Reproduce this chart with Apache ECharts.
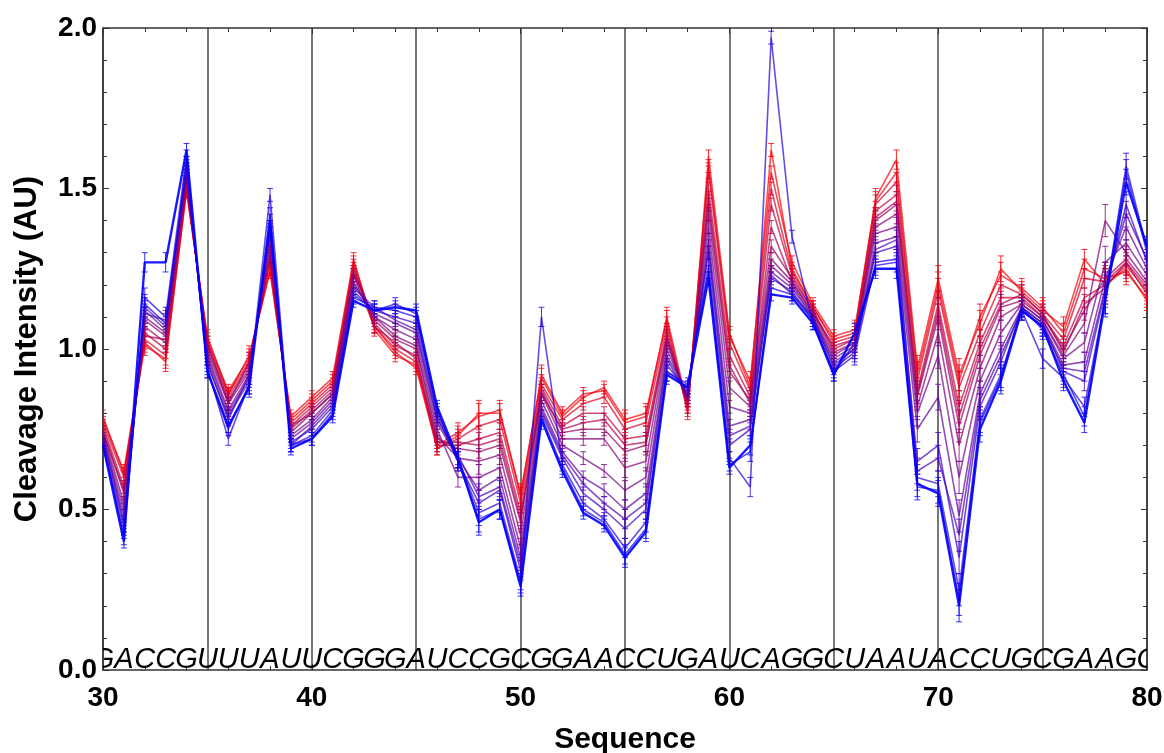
<!DOCTYPE html>
<html><head><meta charset="utf-8">
<script src="https://cdn.jsdelivr.net/npm/echarts@6/dist/echarts.min.js"></script>
<style>html,body{margin:0;padding:0;background:#fff}#c{width:1164px;height:753px}</style>
</head><body><div id="c"></div>
<script>
// ---- data ----
const positions = [30,31,32,33,34,35,36,37,38,39,40,41,42,43,44,45,46,47,48,49,50,51,52,53,54,55,56,57,58,59,60,61,62,63,64,65,66,67,68,69,70,71,72,73,74,75,76,77,78,79,80];
const sequenceLetters = ['G','A','C','C','G','U','U','U','A','U','U','C','G','G','G','A','U','C','C','G','C','G','G','A','A','C','C','U','G','A','U','C','A','G','G','C','U','A','A','U','A','C','C','U','G','C','G','A','A','G','C'];
const xTicks = [30,40,50,60,70,80];
const yTicks = ['0.0','0.5','1.0','1.5','2.0'];
// half-length of the error bars at each position
const errHalf = [.02,.02,.03,.03,.02,.02,.02,.03,.02,.02,
                 .02,.02,.02,.02,.02,.02,.02,.03,.04,.03,
                 .03,.03,.02,.02,.02,.03,.03,.03,.02,.02,
                 .02,.03,.02,.02,.02,.02,.03,.03,.03,.04,
                 .04,.05,.04,.04,.03,.03,.03,.03,.05,.04,
                 .03];
// series, from red (first) to blue (last)
const s0 = [.78,.62,1.02,.96,1.50,1.03,.87,.97,1.25,.78,
            .84,.90,1.27,1.07,.99,.94,.69,.73,.80,.80,
            .55,.91,.79,.85,.88,.78,.80,1.09,.80,1.60,
            1.05,.88,1.62,1.25,1.13,1.03,1.05,1.47,1.59,.94,
            1.22,.92,1.08,1.25,1.18,1.12,1.07,1.28,1.20,1.25,
            1.15];
const sA = [.79,.61,1.01,.97,1.49,1.04,.86,.98,1.24,.79,
            .85,.91,1.28,1.06,.98,.95,.70,.74,.79,.81,
            .54,.92,.80,.86,.87,.77,.79,1.10,.82,1.57,
            1.04,.90,1.55,1.27,1.14,1.04,1.06,1.46,1.55,.92,
            1.20,.90,1.10,1.23,1.19,1.13,1.05,1.25,1.22,1.24,
            1.16];
const s1 = [.77,.60,1.03,.98,1.51,1.02,.86,.96,1.27,.77,
            .83,.89,1.26,1.07,1.00,.96,.69,.72,.76,.78,
            .52,.89,.78,.83,.85,.75,.77,1.07,.81,1.55,
            1.02,.87,1.50,1.24,1.13,1.02,1.04,1.45,1.52,.90,
            1.18,.88,1.05,1.20,1.17,1.11,1.03,1.22,1.21,1.27,
            1.17];
const s2 = [.76,.57,1.05,1.00,1.52,1.01,.85,.95,1.28,.76,
            .82,.88,1.25,1.08,1.01,.98,.70,.70,.72,.74,
            .49,.88,.76,.80,.80,.72,.73,1.05,.82,1.50,
            .98,.85,1.45,1.23,1.12,1.00,1.03,1.43,1.48,.87,
            1.14,.82,1.02,1.16,1.16,1.10,1.01,1.16,1.20,1.26,
            1.18];
const sB = [.74,.56,1.04,1.03,1.51,1.02,.83,.96,1.29,.76,
            .80,.86,1.23,1.07,1.02,.97,.71,.71,.70,.72,
            .47,.86,.75,.77,.78,.70,.71,1.04,.84,1.47,
            .95,.83,1.38,1.21,1.11,1.01,1.03,1.41,1.46,.86,
            1.12,.79,1.00,1.14,1.17,1.11,.99,1.14,1.19,1.27,
            1.19];
const s3 = [.75,.55,1.07,1.02,1.53,1.00,.84,.94,1.30,.75,
            .81,.87,1.24,1.09,1.03,1.00,.72,.69,.68,.70,
            .46,.87,.74,.75,.75,.68,.70,1.03,.83,1.45,
            .93,.84,1.32,1.22,1.12,.99,1.02,1.40,1.45,.85,
            1.10,.76,.98,1.13,1.15,1.10,1.00,1.12,1.22,1.28,
            1.20];
const s4 = [.74,.52,1.09,1.04,1.54,.99,.83,.93,1.32,.74,
            .80,.86,1.23,1.10,1.04,1.01,.73,.66,.65,.67,
            .42,.86,.72,.72,.72,.63,.65,1.02,.84,1.42,
            .88,.82,1.28,1.21,1.11,.98,1.02,1.38,1.42,.82,
            1.05,.70,.94,1.10,1.14,1.09,.98,1.08,1.40,1.30,
            1.21];
const s5 = [.73,.50,1.10,1.05,1.55,.98,.81,.92,1.34,.73,
            .78,.85,1.21,1.10,1.06,1.03,.75,.60,.60,.63,
            .38,.84,.70,.66,.62,.56,.60,1.00,.85,1.38,
            .82,.80,1.26,1.20,1.10,.97,1.01,1.36,1.38,.80,
            .98,.60,.90,1.05,1.14,1.09,.97,1.02,1.27,1.33,
            1.23];
const s6 = [.72,.48,1.12,1.06,1.56,.97,.80,.91,1.36,.72,
            .77,.84,1.20,1.11,1.08,1.05,.77,.66,.56,.60,
            .35,.82,.68,.60,.56,.50,.55,.98,.86,1.34,
            .76,.78,1.24,1.19,1.10,.96,1.00,1.33,1.35,.75,
            .85,.48,.86,1.00,1.13,1.08,.95,.96,1.22,1.38,
            1.25];
const sC = [.73,.46,1.11,1.09,1.55,.96,.78,.92,1.37,.70,
            .76,.83,1.19,1.13,1.09,1.06,.78,.67,.54,.57,
            .33,.81,.67,.58,.52,.47,.52,.97,.85,1.32,
            .73,.76,1.23,1.17,1.10,.94,.99,1.31,1.34,.62,
            .66,.42,.84,.98,1.12,1.07,.94,.93,1.19,1.42,
            1.28];
const s7 = [.71,.45,1.13,1.07,1.57,.95,.79,.90,1.38,.71,
            .75,.82,1.18,1.12,1.10,1.08,.79,.65,.52,.56,
            .31,.80,.66,.55,.50,.44,.50,.95,.87,1.30,
            .70,.75,1.22,1.18,1.09,.95,1.00,1.30,1.32,.65,
            .70,.35,.82,.96,1.13,1.08,.93,.90,1.18,1.45,
            1.27];
const s8 = [.70,.43,1.14,1.08,1.58,.94,.72,.89,1.48,.70,
            .73,.81,1.17,1.12,1.14,1.11,.80,.66,.49,.52,
            .28,1.10,.64,.52,.47,.38,.46,.93,.88,1.26,
            .66,.57,1.97,1.35,1.08,.93,.98,1.27,1.28,.60,
            .58,.25,.78,.92,1.12,.97,.91,.82,1.16,1.55,
            1.30];
const sD = [.71,.41,1.16,1.10,1.60,.93,.75,.89,1.42,.70,
            .72,.80,1.16,1.13,1.12,1.10,.81,.65,.47,.50,
            .27,.79,.63,.50,.46,.36,.44,.93,.89,1.24,
            .64,.68,1.19,1.17,1.09,.92,1.02,1.26,1.27,.57,
            .56,.22,.77,.91,1.13,1.06,.92,.79,1.16,1.57,
            1.31];
const s9 = [.70,.40,1.27,1.27,1.62,.93,.76,.88,1.40,.69,
            .72,.79,1.15,1.12,1.13,1.12,.82,.66,.46,.50,
            .26,.78,.62,.49,.45,.35,.43,.92,.88,1.22,
            .63,.70,1.17,1.16,1.08,.92,1.05,1.25,1.25,.58,
            .55,.20,.75,.90,1.12,1.07,.90,.77,1.15,1.52,
            1.32];
const allSeries = [s0,sA,s1,s2,sB,s3,s4,s5,s6,sC,s7,s8,sD,s9];

// ---- styles ----
const colors = ['#ff0000','#eb0014','#d80027','#c4003b','#b1004e','#9d0062','#890076',
                '#760089','#62009d','#4e00b1','#3b00c4','#2700d8','#1400eb','#0000ff'];
const FONT = '"Liberation Sans", Arial, sans-serif';
const letterY = 0.03;

function errRender(color) {
  return function (params, api) {
    const x = api.value(0), y = api.value(1), e = api.value(2);
    const t = api.coord([x, y + e]), b = api.coord([x, y - e]);
    const c = 3;
    const st = { stroke: color, lineWidth: 1, opacity: 0.8 };
    return { type: 'group', children: [
      { type: 'line', shape: { x1: t[0], y1: t[1], x2: b[0], y2: b[1] }, style: st },
      { type: 'line', shape: { x1: t[0] - c, y1: t[1], x2: t[0] + c, y2: t[1] }, style: st },
      { type: 'line', shape: { x1: b[0] - c, y1: b[1], x2: b[0] + c, y2: b[1] }, style: st }
    ]};
  };
}

const series = [];
// sequence letters
series.push({
  type: 'custom', xAxisIndex: 0, yAxisIndex: 0, clip: true, z: 1,
  data: positions.map((x, i) => [x, letterY, i]),
  renderItem: function (params, api) {
    const p = api.coord([api.value(0), api.value(1)]);
    return { type: 'text', x: p[0], y: p[1], style: {
      text: sequenceLetters[params.dataIndex], font: 'italic 29px ' + FONT,
      fill: '#000', align: 'center', verticalAlign: 'middle' } };
  }
});
allSeries.forEach((vals, i) => {
  const last = i === allSeries.length - 1;
  series.push({
    type: 'line', xAxisIndex: 0, yAxisIndex: 0, z: 3,
    data: positions.map((x, j) => [x, vals[j]]),
    showSymbol: false, symbol: 'none', clip: true,
    lineStyle: { color: colors[i], width: last ? 2.4 : 1.6, opacity: last ? 0.9 : 0.7 },
    silent: true, animation: false
  });
  series.push({
    type: 'custom', xAxisIndex: 0, yAxisIndex: 0, z: 3, clip: true,
    data: positions.map((x, j) => [x, vals[j], errHalf[j]]),
    renderItem: errRender(colors[i]), silent: true
  });
});

const axisLineStyle = { color: '#333', width: 1.5 };
const option = {
  animation: false,
  backgroundColor: '#fff',
  grid: { left: 103, right: 17, top: 28, bottom: 83, containLabel: false, outerBoundsMode: 'none' },
  xAxis: [
    { type: 'value', min: 30, max: 80, interval: 10, position: 'bottom',
      axisLine: { show: true, onZero: false, lineStyle: axisLineStyle },
      axisTick: { show: true, inside: true, length: 6, lineStyle: { color: '#333', width: 1 } },
      minorTick: { show: true, splitNumber: 5, length: 4, lineStyle: { color: '#333', width: 1 } },
      splitLine: { show: false },
      axisLabel: { show: true, margin: 14, color: '#000', fontSize: 28, fontWeight: 'bold', fontFamily: FONT,
        formatter: v => xTicks.indexOf(v) >= 0 ? String(v) : '' },
      name: 'Sequence', nameLocation: 'middle', nameGap: 55,
      nameTextStyle: { color: '#000', fontSize: 30, fontWeight: 'bold', fontFamily: FONT } },
    { type: 'value', min: 30, max: 80, interval: 10, position: 'top',
      axisLine: { show: true, onZero: false, lineStyle: axisLineStyle },
      axisTick: { show: true, inside: true, length: 6, lineStyle: { color: '#333', width: 1 } },
      minorTick: { show: true, splitNumber: 5, length: 4, lineStyle: { color: '#333', width: 1 } },
      splitLine: { show: false }, axisLabel: { show: false } },
    { type: 'value', min: 30, max: 80, interval: 5, position: 'bottom',
      axisLine: { show: false }, axisTick: { show: false }, axisLabel: { show: false },
      splitLine: { show: true, lineStyle: { color: '#606060', width: 1.7 } } }
  ],
  yAxis: [
    { type: 'value', min: 0, max: 2, interval: 0.5, position: 'left',
      axisLine: { show: true, onZero: false, lineStyle: axisLineStyle },
      axisTick: { show: true, inside: true, length: 6, lineStyle: { color: '#333', width: 1 } },
      minorTick: { show: true, splitNumber: 5, length: 4, lineStyle: { color: '#333', width: 1 } },
      splitLine: { show: false },
      axisLabel: { show: true, margin: 6, color: '#000', fontSize: 28, fontWeight: 'bold', fontFamily: FONT,
        formatter: v => yTicks[Math.round(v / 0.5)] },
      name: 'Cleavage Intensity (AU)', nameLocation: 'middle', nameGap: 60, nameRotate: 90,
      nameTextStyle: { color: '#000', fontSize: 31, fontWeight: 'bold', fontFamily: FONT } },
    { type: 'value', min: 0, max: 2, interval: 0.5, position: 'right',
      axisLine: { show: true, onZero: false, lineStyle: axisLineStyle },
      axisTick: { show: true, inside: true, length: 6, lineStyle: { color: '#333', width: 1 } },
      minorTick: { show: true, splitNumber: 5, length: 4, lineStyle: { color: '#333', width: 1 } },
      splitLine: { show: false }, axisLabel: { show: false } }
  ],
  series: series
};
const chart = echarts.init(document.getElementById('c'), null, { renderer: 'canvas' });
chart.setOption(option);
</script>
</body></html>
